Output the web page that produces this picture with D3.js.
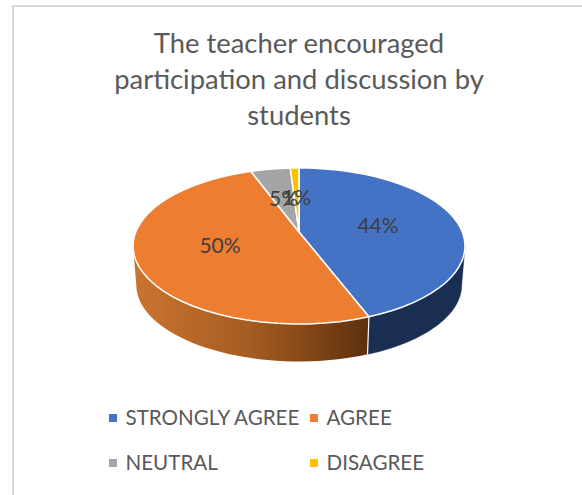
<!DOCTYPE html>
<html><head><meta charset="utf-8">
<style>html,body{margin:0;padding:0;background:#fff}svg{display:block}text{font-family:"Lato",sans-serif}</style>
<script src="https://cdn.jsdelivr.net/npm/d3@7/dist/d3.min.js"></script>
</head><body><div id="c"></div>
<script>
const categories = ["STRONGLY AGREE","AGREE","NEUTRAL","DISAGREE"];
const values = [44.2,50.2,4.6,1.0];
const colors = ["#4472c4","#ed7d31","#a5a5a5","#ffc000"];
const titleLines = ["The teacher encouraged","participation and discussion by","students"];

const W=582,H=495;
const svg=d3.select("#c").append("svg").attr("width",W).attr("height",H);
svg.append("rect").attr("width",W).attr("height",H).attr("fill","#fff");
svg.append("rect").attr("x",13).attr("y",6).attr("width",W).attr("height",H).attr("fill","#fff").attr("stroke","#d9d9d9").attr("stroke-width",2);

const defs=svg.append("defs");
const g=defs.append("linearGradient").attr("id","og").attr("x1","0").attr("x2","1").attr("y1","0").attr("y2","0");
[[0,"#cb7430"],[0.5,"#a55c22"],[1,"#5d300e"]].forEach(s=>g.append("stop").attr("offset",s[0]).attr("stop-color",s[1]));

svg.append("g").attr("text-anchor","middle").attr("fill","#595959").attr("font-size",27.4)
  .selectAll("text").data(titleLines).join("text")
  .attr("x",299).attr("y",(d,i)=>53+i*36).text(d=>d);

// perspective projection of the pie disc
const cx=299,cy=232,a=163.3,b=75.5,p=0.1795,depth=39,bs=0.98;
function proj(theta,r=1){
  const u=r*Math.sin(theta),v=-r*Math.cos(theta),w=1-p*v;
  return [cx+a*u/w,cy+b*v/w];
}
function lower(theta){
  const q=proj(theta);
  return [cx+(q[0]-cx)*bs,246+depth+(q[1]-246)*bs];
}
const line=d3.line();
const samples=(t0,t1)=>d3.range(0,41).map(i=>t0+(t1-t0)*i/40);
const arcs=d3.pie().sort(null).value(d=>d)(values);

const thR=Math.acos(-p),thL=2*Math.PI-thR;
// walls
const wall=(t0,t1)=>{
  const s=samples(t0,t1);
  return line(s.map(t=>proj(t)).concat(s.slice().reverse().map(lower)))+"Z";
};
const frontSeam=arcs[0].endAngle;
svg.append("path").attr("d",wall(thR,frontSeam)).attr("fill","#1a2e52").attr("stroke","#1a2e52").attr("stroke-width",.5);
svg.append("path").attr("d",wall(frontSeam,thL)).attr("fill","url(#og)");
svg.append("path").attr("d",line([proj(frontSeam),lower(frontSeam)])).attr("stroke","#fff").attr("stroke-width",1.2).attr("fill","none");

// top slices
svg.append("g").selectAll("path").data(arcs).join("path")
  .attr("d",d=>line([[cx,cy]].concat(samples(d.startAngle,d.endAngle).map(t=>proj(t))))+"Z")
  .attr("fill",(d,i)=>colors[i]).attr("stroke","#fff").attr("stroke-width",1.5).attr("stroke-linejoin","round");

// data labels
svg.append("g").attr("text-anchor","middle").attr("fill","#404040").attr("font-size",21)
  .selectAll("text").data(arcs).join("text")
  .attr("x",d=>proj((d.startAngle+d.endAngle)/2,0.5)[0])
  .attr("y",d=>proj((d.startAngle+d.endAngle)/2,0.5)[1]+7.5)
  .text(d=>Math.round(d.value)+"%");

// legend
const legX=[109,310],legY=[425,470];
const leg=svg.append("g").selectAll("g").data(categories).join("g")
  .attr("transform",(d,i)=>`translate(${legX[i%2]},${legY[Math.floor(i/2)]})`);
leg.append("rect").attr("x",0).attr("y",-11).attr("width",8).attr("height",8).attr("fill",(d,i)=>colors[i]);
leg.append("text").attr("x",16.5).attr("y",0).attr("font-size",20.6).attr("fill","#595959").text(d=>d);
</script></body></html>
